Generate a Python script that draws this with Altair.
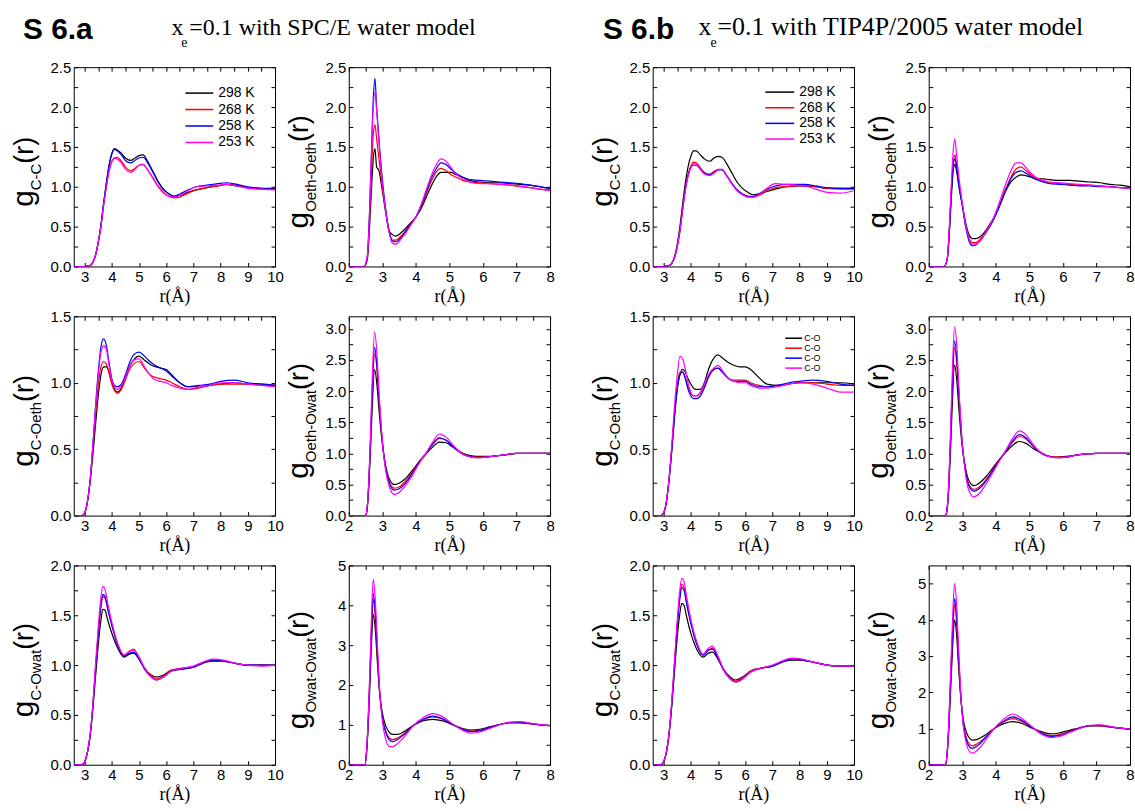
import math
import altair as alt
import pandas as pd

SERIES = ["298 K", "268 K", "258 K", "253 K"]
COLORS = ["#000000", "#ff0000", "#0000ff", "#ff00ff"]

# ---------------- S 6.a : SPC/E ----------------
a_cc_r = [2.6, 3.0, 3.2, 3.3, 3.4, 3.5, 3.6, 3.7, 3.8, 3.9, 4.0, 4.1, 4.2, 4.35, 4.5, 4.7, 4.85, 5.0, 5.15, 5.3,
          5.5, 5.7, 5.9, 6.1, 6.3, 6.5, 6.8, 7.1, 7.5, 7.9, 8.2, 8.6, 9.0, 9.5, 10.0]
a_cc_298 = [0, 0, 0.01, 0.05, 0.14, 0.3, 0.52, 0.8, 1.05, 1.27, 1.42, 1.48, 1.46, 1.42, 1.36, 1.33, 1.36, 1.39, 1.40, 1.33,
            1.20, 1.07, 0.97, 0.91, 0.88, 0.89, 0.93, 0.96, 0.99, 1.01, 1.03, 1.01, 0.99, 0.98, 0.98]
a_cc_268 = [0, 0, 0.01, 0.05, 0.14, 0.3, 0.5, 0.77, 1.0, 1.2, 1.32, 1.36, 1.37, 1.32, 1.25, 1.20, 1.23, 1.27, 1.28, 1.22,
            1.12, 1.01, 0.93, 0.88, 0.86, 0.87, 0.92, 0.96, 0.99, 1.01, 1.03, 1.02, 0.99, 0.97, 0.97]
a_cc_258 = [0, 0, 0.01, 0.05, 0.14, 0.3, 0.52, 0.8, 1.05, 1.27, 1.41, 1.47, 1.45, 1.40, 1.33, 1.30, 1.33, 1.36, 1.37, 1.31,
            1.19, 1.06, 0.96, 0.91, 0.88, 0.91, 0.96, 1.00, 1.02, 1.04, 1.05, 1.03, 1.00, 0.98, 0.97]
a_cc_253 = [0, 0, 0.01, 0.05, 0.14, 0.3, 0.5, 0.77, 1.0, 1.2, 1.31, 1.36, 1.35, 1.30, 1.22, 1.18, 1.22, 1.27, 1.28, 1.22,
            1.11, 1.00, 0.92, 0.88, 0.87, 0.89, 0.95, 1.0, 1.01, 1.02, 1.03, 1.01, 0.98, 0.97, 0.96]

a_oo_r = [2.0, 2.45, 2.55, 2.62, 2.68, 2.73, 2.78, 2.83, 2.9, 3.0, 3.1, 3.2, 3.3, 3.4, 3.55, 3.7, 3.85, 4.0, 4.15, 4.3,
          4.45, 4.6, 4.75, 4.9, 5.05, 5.2, 5.4, 5.6, 5.9, 6.2, 6.5, 6.8, 7.1, 7.4, 7.7, 8.0]
a_oo_298 = [0, 0, 0.08, 0.5, 1.0, 1.35, 1.48, 1.25, 1.2, 0.95, 0.68, 0.45, 0.40, 0.38, 0.42, 0.48, 0.55, 0.62, 0.72, 0.86,
            1.0, 1.12, 1.18, 1.18, 1.18, 1.15, 1.12, 1.08, 1.06, 1.05, 1.05, 1.04, 1.03, 1.02, 1.0, 0.98]
a_oo_268 = [0, 0, 0.1, 0.6, 1.2, 1.65, 1.78, 1.6, 1.35, 1.0, 0.7, 0.45, 0.33, 0.33, 0.38, 0.45, 0.54, 0.62, 0.75, 0.9,
            1.06, 1.18, 1.23, 1.2, 1.15, 1.12, 1.08, 1.06, 1.05, 1.04, 1.03, 1.02, 1.0, 0.99, 0.97, 0.96]
a_oo_258 = [0, 0, 0.12, 0.7, 1.5, 2.1, 2.36, 2.0, 1.6, 1.1, 0.72, 0.45, 0.32, 0.31, 0.36, 0.44, 0.53, 0.62, 0.76, 0.92,
            1.1, 1.22, 1.3, 1.28, 1.22, 1.17, 1.12, 1.09, 1.08, 1.07, 1.06, 1.05, 1.04, 1.02, 1.0, 0.98]
a_oo_253 = [0, 0, 0.12, 0.68, 1.45, 2.0, 2.18, 1.95, 1.55, 1.05, 0.7, 0.43, 0.29, 0.28, 0.34, 0.42, 0.52, 0.62, 0.77, 0.95,
            1.13, 1.27, 1.35, 1.32, 1.24, 1.16, 1.1, 1.06, 1.04, 1.04, 1.03, 1.02, 1.01, 0.99, 0.97, 0.95]

a_coe_r = [2.6, 2.9, 3.0, 3.1, 3.2, 3.3, 3.4, 3.5, 3.6, 3.7, 3.8, 3.9, 4.0, 4.1, 4.2, 4.35, 4.5, 4.65, 4.8, 5.0,
           5.2, 5.4, 5.6, 5.8, 6.0, 6.2, 6.5, 6.8, 7.2, 7.6, 8.0, 8.5, 9.0, 9.5, 10.0]
a_coe_298 = [0, 0, 0.02, 0.1, 0.25, 0.45, 0.68, 0.9, 1.06, 1.12, 1.12, 1.08, 1.0, 0.95, 0.93, 0.96, 1.04, 1.12, 1.17, 1.2,
             1.17, 1.14, 1.12, 1.11, 1.1, 1.06, 1.0, 0.97, 0.97, 0.98, 0.99, 1.0, 0.99, 0.99, 0.98]
a_coe_268 = [0, 0, 0.02, 0.1, 0.26, 0.5, 0.76, 0.98, 1.12, 1.16, 1.14, 1.07, 0.99, 0.94, 0.92, 0.95, 1.02, 1.1, 1.14, 1.16,
             1.11, 1.06, 1.04, 1.03, 1.02, 1.0, 0.97, 0.95, 0.96, 0.98, 0.99, 0.99, 0.99, 0.98, 0.98]
a_coe_258 = [0, 0, 0.02, 0.1, 0.26, 0.52, 0.82, 1.08, 1.27, 1.33, 1.28, 1.15, 1.03, 0.98, 0.97, 0.99, 1.06, 1.15, 1.21, 1.23,
             1.2, 1.16, 1.13, 1.11, 1.09, 1.05, 1.0, 0.97, 0.98, 0.99, 1.01, 1.02, 1.0, 0.99, 0.98]
a_coe_253 = [0, 0, 0.02, 0.1, 0.26, 0.52, 0.8, 1.05, 1.23, 1.28, 1.25, 1.13, 1.02, 0.97, 0.95, 0.98, 1.04, 1.12, 1.17, 1.18,
             1.12, 1.06, 1.02, 1.01, 1.0, 0.98, 0.96, 0.95, 0.97, 0.98, 1.0, 1.0, 0.99, 0.98, 0.97]

a_oew_r = [2.0, 2.5, 2.55, 2.6, 2.65, 2.7, 2.77, 2.84, 2.9, 3.0, 3.1, 3.2, 3.35, 3.5, 3.7, 3.9, 4.1, 4.3, 4.5, 4.7,
           4.9, 5.1, 5.3, 5.5, 5.8, 6.1, 6.4, 6.7, 7.0, 7.3, 7.6, 8.0]
a_oew_298 = [0, 0, 0.12, 0.5, 1.1, 1.75, 2.35, 2.1, 1.7, 1.15, 0.8, 0.6, 0.5, 0.52, 0.6, 0.73, 0.87, 0.99, 1.1, 1.18,
             1.17, 1.1, 1.03, 0.98, 0.95, 0.95, 0.96, 0.98, 1.0, 1.0, 1.0, 1.0]
a_oew_268 = [0, 0, 0.13, 0.55, 1.2, 1.95, 2.6, 2.35, 1.85, 1.2, 0.78, 0.56, 0.44, 0.46, 0.56, 0.7, 0.86, 1.0, 1.14, 1.24,
             1.21, 1.12, 1.03, 0.97, 0.94, 0.94, 0.96, 0.98, 1.0, 1.0, 1.0, 1.0]
a_oew_258 = [0, 0, 0.13, 0.56, 1.25, 2.0, 2.7, 2.4, 1.9, 1.2, 0.76, 0.53, 0.41, 0.43, 0.53, 0.68, 0.85, 1.0, 1.15, 1.25,
             1.21, 1.11, 1.02, 0.96, 0.93, 0.94, 0.96, 0.98, 1.0, 1.0, 1.0, 1.0]
a_oew_253 = [0, 0, 0.14, 0.6, 1.35, 2.2, 2.95, 2.6, 2.0, 1.2, 0.72, 0.48, 0.34, 0.37, 0.49, 0.65, 0.84, 1.0, 1.18, 1.31,
             1.26, 1.14, 1.02, 0.96, 0.93, 0.94, 0.96, 0.98, 1.0, 1.0, 1.0, 1.0]

a_cow_r = [2.6, 2.9, 3.0, 3.1, 3.2, 3.3, 3.4, 3.5, 3.6, 3.67, 3.75, 3.85, 4.0, 4.2, 4.45, 4.65, 4.8, 5.0, 5.2, 5.45,
           5.65, 5.9, 6.2, 6.6, 7.0, 7.35, 7.7, 8.1, 8.5, 9.0, 9.5, 10.0]
a_cow_298 = [0, 0, 0.03, 0.12, 0.28, 0.55, 0.88, 1.2, 1.45, 1.56, 1.55, 1.45, 1.32, 1.18, 1.08, 1.11, 1.12, 1.06, 0.97, 0.9,
             0.88, 0.9, 0.95, 0.96, 0.98, 1.02, 1.04, 1.04, 1.02, 1.0, 1.0, 1.0]
a_cow_268 = [0, 0, 0.03, 0.12, 0.29, 0.58, 0.95, 1.3, 1.58, 1.69, 1.67, 1.56, 1.4, 1.22, 1.1, 1.14, 1.15, 1.08, 0.97, 0.89,
             0.86, 0.89, 0.95, 0.97, 0.98, 1.02, 1.05, 1.04, 1.02, 1.0, 1.0, 1.0]
a_cow_258 = [0, 0, 0.03, 0.12, 0.29, 0.58, 0.96, 1.32, 1.6, 1.71, 1.69, 1.57, 1.4, 1.21, 1.09, 1.12, 1.13, 1.06, 0.96, 0.88,
             0.85, 0.88, 0.94, 0.96, 0.98, 1.02, 1.05, 1.04, 1.02, 1.0, 1.0, 1.0]
a_cow_253 = [0, 0, 0.03, 0.12, 0.3, 0.6, 1.0, 1.38, 1.68, 1.79, 1.76, 1.62, 1.43, 1.23, 1.1, 1.14, 1.16, 1.08, 0.97, 0.88,
             0.85, 0.88, 0.94, 0.97, 0.99, 1.03, 1.06, 1.05, 1.02, 1.0, 0.99, 1.0]

a_ww_r = [2.0, 2.48, 2.53, 2.58, 2.63, 2.68, 2.73, 2.79, 2.85, 2.92, 3.0, 3.1, 3.2, 3.3, 3.45, 3.65, 3.95, 4.2, 4.5, 4.8,
          5.1, 5.4, 5.65, 5.9, 6.2, 6.5, 6.8, 7.1, 7.5, 8.0]
a_ww_298 = [0, 0, 0.3, 1.0, 2.0, 3.1, 3.78, 3.4, 2.6, 1.8, 1.3, 0.98, 0.82, 0.76, 0.76, 0.83, 1.0, 1.1, 1.14, 1.1,
            1.0, 0.91, 0.87, 0.89, 0.95, 1.01, 1.05, 1.05, 1.02, 0.98]
a_ww_268 = [0, 0, 0.32, 1.1, 2.2, 3.4, 4.15, 3.7, 2.8, 1.8, 1.2, 0.85, 0.68, 0.63, 0.67, 0.78, 1.0, 1.12, 1.2, 1.14,
            1.01, 0.89, 0.84, 0.86, 0.93, 1.01, 1.06, 1.06, 1.02, 0.98]
a_ww_258 = [0, 0, 0.33, 1.1, 2.25, 3.5, 4.3, 3.85, 2.9, 1.85, 1.2, 0.82, 0.63, 0.58, 0.63, 0.76, 1.0, 1.13, 1.22, 1.15,
            1.01, 0.88, 0.83, 0.85, 0.93, 1.01, 1.06, 1.07, 1.02, 0.98]
a_ww_253 = [0, 0, 0.35, 1.2, 2.4, 3.8, 4.65, 4.15, 3.1, 1.9, 1.1, 0.65, 0.46, 0.45, 0.53, 0.7, 1.0, 1.17, 1.28, 1.2,
            1.02, 0.86, 0.79, 0.82, 0.91, 1.0, 1.07, 1.08, 1.03, 0.98]

# ---------------- S 6.b : TIP4P/2005 ----------------
b_cc_r = a_cc_r
b_cc_298 = [0, 0, 0.01, 0.04, 0.12, 0.27, 0.5, 0.78, 1.05, 1.25, 1.38, 1.45, 1.45, 1.40, 1.35, 1.32, 1.36, 1.38, 1.37, 1.30,
            1.18, 1.06, 0.98, 0.93, 0.90, 0.91, 0.94, 0.97, 1.0, 1.01, 1.01, 1.0, 0.98, 0.98, 0.98]
b_cc_268 = [0, 0, 0.01, 0.04, 0.11, 0.25, 0.45, 0.72, 0.98, 1.15, 1.26, 1.31, 1.3, 1.24, 1.18, 1.16, 1.19, 1.22, 1.22, 1.15,
            1.05, 0.96, 0.91, 0.88, 0.87, 0.89, 0.95, 0.99, 1.0, 1.01, 1.01, 1.0, 0.98, 0.97, 0.97]
b_cc_258 = [0, 0, 0.01, 0.04, 0.11, 0.25, 0.45, 0.72, 0.97, 1.14, 1.24, 1.27, 1.27, 1.22, 1.17, 1.15, 1.18, 1.21, 1.21, 1.15,
            1.05, 0.96, 0.91, 0.88, 0.88, 0.91, 0.97, 1.01, 1.03, 1.03, 1.03, 1.01, 0.99, 0.98, 0.98]
b_cc_253 = [0, 0, 0.01, 0.04, 0.11, 0.24, 0.44, 0.7, 0.95, 1.13, 1.24, 1.29, 1.28, 1.22, 1.16, 1.14, 1.17, 1.21, 1.22, 1.15,
            1.04, 0.95, 0.9, 0.87, 0.87, 0.9, 0.98, 1.04, 1.03, 1.02, 1.01, 0.97, 0.93, 0.92, 0.95]

b_oo_r = a_oo_r
b_oo_298 = [0, 0, 0.08, 0.45, 0.9, 1.2, 1.28, 1.2, 1.0, 0.78, 0.55, 0.4, 0.35, 0.35, 0.38, 0.45, 0.55, 0.65, 0.8, 0.95,
            1.06, 1.12, 1.15, 1.14, 1.12, 1.1, 1.1, 1.09, 1.08, 1.08, 1.07, 1.06, 1.05, 1.03, 1.02, 1.0]
b_oo_268 = [0, 0, 0.09, 0.5, 1.0, 1.3, 1.4, 1.28, 1.05, 0.78, 0.52, 0.36, 0.3, 0.3, 0.35, 0.43, 0.53, 0.66, 0.82, 0.98,
            1.12, 1.22, 1.25, 1.2, 1.15, 1.1, 1.07, 1.05, 1.04, 1.03, 1.02, 1.02, 1.01, 1.0, 0.99, 0.98]
b_oo_258 = [0, 0, 0.09, 0.5, 0.98, 1.27, 1.35, 1.25, 1.02, 0.76, 0.5, 0.32, 0.26, 0.27, 0.33, 0.42, 0.52, 0.65, 0.8, 0.96,
            1.1, 1.18, 1.2, 1.17, 1.13, 1.09, 1.06, 1.04, 1.03, 1.02, 1.01, 1.01, 1.0, 1.0, 0.99, 0.98]
b_oo_253 = [0, 0, 0.1, 0.55, 1.1, 1.45, 1.6, 1.4, 1.12, 0.8, 0.52, 0.35, 0.28, 0.28, 0.33, 0.43, 0.54, 0.68, 0.86, 1.04,
            1.2, 1.3, 1.3, 1.24, 1.17, 1.12, 1.08, 1.06, 1.05, 1.04, 1.03, 1.02, 1.01, 1.0, 0.99, 0.98]

b_coe_r = a_coe_r
b_coe_298 = [0, 0, 0.02, 0.1, 0.27, 0.5, 0.75, 0.95, 1.06, 1.1, 1.08, 1.03, 0.99, 0.96, 0.95, 0.95, 1.0, 1.1, 1.17, 1.21,
             1.18, 1.15, 1.13, 1.12, 1.12, 1.1, 1.04, 0.99, 0.98, 0.99, 1.0, 1.0, 1.0, 1.0, 0.99]
b_coe_268 = [0, 0, 0.02, 0.1, 0.27, 0.5, 0.76, 0.98, 1.08, 1.08, 1.04, 0.97, 0.92, 0.9, 0.9, 0.92, 0.98, 1.05, 1.1, 1.11,
             1.07, 1.03, 1.02, 1.02, 1.02, 1.0, 0.98, 0.97, 0.98, 0.99, 1.0, 1.0, 0.99, 0.98, 0.98]
b_coe_258 = [0, 0, 0.02, 0.1, 0.26, 0.48, 0.73, 0.95, 1.06, 1.08, 1.03, 0.95, 0.9, 0.88, 0.88, 0.9, 0.96, 1.04, 1.09, 1.11,
             1.07, 1.03, 1.01, 1.01, 1.01, 0.99, 0.97, 0.97, 0.98, 1.0, 1.01, 1.02, 1.01, 0.99, 0.98]
b_coe_253 = [0, 0, 0.02, 0.1, 0.28, 0.53, 0.82, 1.05, 1.2, 1.18, 1.1, 1.0, 0.93, 0.9, 0.9, 0.93, 0.99, 1.06, 1.1, 1.13,
             1.08, 1.03, 1.01, 1.0, 1.0, 0.98, 0.96, 0.96, 0.97, 0.99, 1.0, 0.99, 0.96, 0.93, 0.93]

b_oew_r = a_oew_r
b_oew_298 = [0, 0, 0.1, 0.45, 1.05, 1.75, 2.42, 2.15, 1.7, 1.1, 0.75, 0.56, 0.48, 0.52, 0.62, 0.76, 0.9, 1.02, 1.13, 1.19,
             1.16, 1.08, 1.02, 0.97, 0.94, 0.95, 0.97, 0.99, 1.0, 1.0, 1.0, 1.0]
b_oew_268 = [0, 0, 0.12, 0.5, 1.2, 2.0, 2.7, 2.4, 1.9, 1.15, 0.72, 0.5, 0.42, 0.46, 0.57, 0.73, 0.89, 1.04, 1.18, 1.27,
             1.23, 1.12, 1.03, 0.97, 0.94, 0.94, 0.97, 0.99, 1.0, 1.0, 1.0, 1.0]
b_oew_258 = [0, 0, 0.12, 0.52, 1.25, 2.05, 2.8, 2.5, 1.95, 1.15, 0.7, 0.47, 0.39, 0.43, 0.55, 0.71, 0.88, 1.04, 1.2, 1.3,
             1.25, 1.12, 1.02, 0.96, 0.93, 0.94, 0.97, 0.99, 1.0, 1.0, 1.0, 1.0]
b_oew_253 = [0, 0, 0.13, 0.55, 1.35, 2.25, 3.03, 2.7, 2.05, 1.15, 0.65, 0.4, 0.3, 0.35, 0.5, 0.68, 0.87, 1.05, 1.24, 1.36,
             1.3, 1.15, 1.03, 0.96, 0.93, 0.94, 0.97, 0.99, 1.0, 1.0, 1.0, 1.0]

b_cow_r = a_cow_r
b_cow_298 = [0, 0, 0.03, 0.12, 0.3, 0.58, 0.93, 1.27, 1.52, 1.62, 1.6, 1.48, 1.32, 1.17, 1.08, 1.12, 1.13, 1.06, 0.96, 0.88,
             0.85, 0.88, 0.94, 0.97, 0.99, 1.03, 1.05, 1.05, 1.03, 1.0, 0.99, 0.99]
b_cow_268 = [0, 0, 0.03, 0.12, 0.31, 0.62, 1.0, 1.4, 1.7, 1.81, 1.78, 1.63, 1.43, 1.23, 1.1, 1.15, 1.17, 1.08, 0.96, 0.87,
             0.84, 0.87, 0.94, 0.97, 0.99, 1.03, 1.06, 1.05, 1.03, 1.0, 0.99, 0.99]
b_cow_258 = [0, 0, 0.03, 0.12, 0.31, 0.61, 0.99, 1.38, 1.67, 1.78, 1.75, 1.61, 1.42, 1.22, 1.1, 1.15, 1.16, 1.07, 0.95, 0.86,
             0.83, 0.86, 0.93, 0.97, 0.99, 1.03, 1.06, 1.05, 1.03, 1.0, 0.99, 0.99]
b_cow_253 = [0, 0, 0.03, 0.13, 0.32, 0.64, 1.04, 1.44, 1.76, 1.87, 1.84, 1.68, 1.46, 1.25, 1.11, 1.17, 1.19, 1.09, 0.96, 0.86,
             0.83, 0.86, 0.93, 0.97, 1.0, 1.04, 1.07, 1.06, 1.03, 1.0, 0.99, 0.99]

b_ww_r = [2.0, 2.5, 2.55, 2.6, 2.65, 2.71, 2.77, 2.83, 2.89, 2.96, 3.04, 3.13, 3.22, 3.3, 3.45, 3.65, 3.95, 4.2, 4.5, 4.8,
          5.1, 5.4, 5.65, 5.9, 6.2, 6.5, 6.8, 7.1, 7.5, 8.0]
b_ww_298 = [0, 0, 0.3, 1.0, 2.0, 3.2, 4.0, 3.6, 2.7, 1.8, 1.2, 0.88, 0.73, 0.68, 0.7, 0.8, 1.0, 1.12, 1.19, 1.13,
            1.0, 0.9, 0.85, 0.88, 0.95, 1.02, 1.07, 1.07, 1.03, 0.98]
b_ww_268 = [0, 0, 0.32, 1.1, 2.2, 3.5, 4.42, 3.95, 2.9, 1.8, 1.1, 0.72, 0.56, 0.52, 0.58, 0.73, 1.0, 1.16, 1.27, 1.18,
            1.02, 0.86, 0.8, 0.83, 0.92, 1.01, 1.08, 1.08, 1.03, 0.98]
b_ww_258 = [0, 0, 0.33, 1.12, 2.3, 3.65, 4.58, 4.1, 3.0, 1.85, 1.05, 0.66, 0.49, 0.45, 0.52, 0.7, 1.0, 1.18, 1.32, 1.21,
            1.02, 0.85, 0.78, 0.81, 0.91, 1.01, 1.08, 1.09, 1.03, 0.98]
b_ww_253 = [0, 0, 0.35, 1.2, 2.5, 4.0, 5.0, 4.45, 3.2, 1.9, 1.0, 0.55, 0.36, 0.32, 0.4, 0.62, 1.0, 1.23, 1.4, 1.26,
            1.03, 0.82, 0.75, 0.78, 0.89, 1.0, 1.09, 1.1, 1.04, 0.98]

LEGEND_T = SERIES
LEGEND_CO = ["C-O", "C-O", "C-O", "C-O"]

# ---------------- styling ----------------
SANS = "Liberation Sans"
SERIF = "Liberation Serif"
PW, PH = 202, 200
CSCALE = alt.Scale(domain=SERIES, range=COLORS)
AW = {'g': .556, 'C': .722, 'O': .778, '-': .333, 'e': .556, 't': .278, 'h': .556,
      'w': .722, 'a': .556, '(': .333, ')': .333, 'r': .333}


def tw(s, size):
    return sum(AW.get(c, 0.55) for c in s) * size


def tick_values(lo, hi, step):
    n0 = math.ceil(lo / step - 1e-9)
    n1 = math.floor(hi / step + 1e-9)
    return [round(i * step, 4) for i in range(n0, n1 + 1)]


def one(**kw):
    return alt.Chart(pd.DataFrame({"k": [0]})).mark_text(**kw)


def ytitle(sub):
    gs, ss, rs = 30, 15, 27
    lg, ls, lr = tw("g", gs), tw(sub, ss), tw("(r)", rs)
    y0 = 105 + (lg + ls + lr) / 2
    out = []
    for t, size, px, py in [("g", gs, -41, y0), (sub, ss, -33, y0 - lg), ("(r)", rs, -41, y0 - lg - ls)]:
        out.append(one(text=t, fontSize=size, font=SANS, angle=270, align="left",
                       baseline="alphabetic", color="black").encode(x=alt.value(px), y=alt.value(py)))
    return out


def group_title(label, rest, xs, tsize):
    sx, xx, ex, rx = xs
    return [
        one(text=label, fontSize=30, font=SANS, fontWeight="bold", align="left",
            baseline="alphabetic", color="black").encode(x=alt.value(sx), y=alt.value(-28)),
        one(text="x", fontSize=tsize, font=SERIF, align="left", baseline="alphabetic",
            color="black").encode(x=alt.value(xx), y=alt.value(-32)),
        one(text="e", fontSize=14, font=SERIF, align="left", baseline="alphabetic",
            color="black").encode(x=alt.value(ex), y=alt.value(-20)),
        one(text=rest, fontSize=tsize, font=SERIF, align="left", baseline="alphabetic",
            color="black").encode(x=alt.value(rx), y=alt.value(-32)),
    ]


def legend(labels, x0, x1, xt, y0, dy, size):
    ldf = pd.DataFrame({"T": SERIES, "lab": labels, "ly": [y0 + i * dy for i in range(len(SERIES))]})
    rule = alt.Chart(ldf).mark_rule(strokeWidth=1.5).encode(
        x=alt.value(x0), x2=alt.value(x1), y=alt.Y("ly:Q", scale=None),
        color=alt.Color("T:N", scale=CSCALE, legend=None))
    txt = alt.Chart(ldf).mark_text(align="left", baseline="middle", fontSize=size, font=SANS,
                                   color="black").encode(
        x=alt.value(xt), y=alt.Y("ly:Q", scale=None), text="lab:N")
    return [rule, txt]


def panel(r, ys, xdom, ydom, ymajor, yfmt, sub, extras=()):
    rows = []
    for s, y in zip(SERIES, ys):
        for rv, gv in zip(r, y):
            rows.append({"r": rv, "g": gv, "T": s})
    df = pd.DataFrame(rows)
    xvals = tick_values(xdom[0], xdom[1], 0.5)
    yvals = tick_values(ydom[0], ydom[1], ymajor / 2)
    xs = alt.Scale(domain=list(xdom), nice=False, zero=False)
    ysc = alt.Scale(domain=list(ydom), nice=False, zero=False)
    common = dict(offset=-4, tickSize=4, domain=False, tickColor="black", tickWidth=1, grid=False)
    xaxis = alt.Axis(values=xvals, format="d", labelExpr="datum.value % 1 === 0 ? datum.label : ''",
                     title="r(Å)", labelPadding=3, labelFlush=False, labelOverlap=False,
                     titleFont=SERIF, titleFontSize=18, titleFontWeight="normal", titleColor="black",
                     titlePadding=3, **common)
    yaxis = alt.Axis(values=yvals, format=yfmt,
                     labelExpr=f"abs(datum.value/{ymajor} - round(datum.value/{ymajor})) < 1e-6 ? datum.label : ''",
                     title=None, labelPadding=3, labelFlush=False, labelOverlap=False, **common)
    lines = alt.Chart(df).mark_line(strokeWidth=1.2, interpolate="monotone", clip=True).encode(
        x=alt.X("r:Q", scale=xs, axis=xaxis),
        y=alt.Y("g:Q", scale=ysc, axis=yaxis),
        color=alt.Color("T:N", scale=CSCALE, legend=None),
    )
    mirror = alt.Chart(df).mark_point(opacity=0, size=1).encode(
        x=alt.X("r:Q", scale=xs, axis=alt.Axis(orient="top", values=xvals, labels=False, title=None, **common)),
        y=alt.Y("g:Q", scale=ysc, axis=alt.Axis(orient="right", values=yvals, labels=False, title=None, **common)),
    )
    return alt.layer(lines, mirror, *ytitle(sub), *extras).resolve_axis(
        x="independent", y="independent").properties(width=PW, height=PH)


XC = (2.6, 10)
XO = (2, 8)

pa1 = panel(a_cc_r, [a_cc_298, a_cc_268, a_cc_258, a_cc_253], XC, (0, 2.5), 0.5, ".1f", "C-C",
            extras=group_title("S 6.a", "=0.1 with SPC/E water model", (-51, 98, 108, 116), 24)
            + legend(LEGEND_T, 112, 140, 145, 26, 16.5, 14))
pa2 = panel(a_oo_r, [a_oo_298, a_oo_268, a_oo_258, a_oo_253], XO, (0, 2.5), 0.5, ".1f", "Oeth-Oeth")
pa3 = panel(a_coe_r, [a_coe_298, a_coe_268, a_coe_258, a_coe_253], XC, (0, 1.5), 0.5, ".1f", "C-Oeth")
pa4 = panel(a_oew_r, [a_oew_298, a_oew_268, a_oew_258, a_oew_253], XO, (0, 3.2), 0.5, ".1f", "Oeth-Owat")
pa5 = panel(a_cow_r, [a_cow_298, a_cow_268, a_cow_258, a_cow_253], XC, (0, 2.0), 0.5, ".1f", "C-Owat")
pa6 = panel(a_ww_r, [a_ww_298, a_ww_268, a_ww_258, a_ww_253], XO, (0, 5), 1, "d", "Owat-Owat")

pb1 = panel(b_cc_r, [b_cc_298, b_cc_268, b_cc_258, b_cc_253], XC, (0, 2.5), 0.5, ".1f", "C-C",
            extras=group_title("S 6.b", "=0.1 with TIP4P/2005 water model", (-50, 46, 58, 65), 26)
            + legend(LEGEND_T, 113, 142, 147, 25, 15.7, 14))
pb2 = panel(b_oo_r, [b_oo_298, b_oo_268, b_oo_258, b_oo_253], XO, (0, 2.5), 0.5, ".1f", "Oeth-Oeth")
pb3 = panel(b_coe_r, [b_coe_298, b_coe_268, b_coe_258, b_coe_253], XC, (0, 1.5), 0.5, ".1f", "C-Oeth",
            extras=legend(LEGEND_CO, 133, 150, 152, 22, 10, 9))
pb4 = panel(b_oew_r, [b_oew_298, b_oew_268, b_oew_258, b_oew_253], XO, (0, 3.2), 0.5, ".1f", "Oeth-Owat")
pb5 = panel(b_cow_r, [b_cow_298, b_cow_268, b_cow_258, b_cow_253], XC, (0, 2.0), 0.5, ".1f", "C-Owat")
pb6 = panel(b_ww_r, [b_ww_298, b_ww_268, b_ww_258, b_ww_253], XO, (0, 5.5), 1, "d", "Owat-Owat")

grpA = alt.concat(pa1, pa2, pa3, pa4, pa5, pa6, columns=2, spacing={"row": 50, "column": 74}, bounds="flush")
grpB = alt.concat(pb1, pb2, pb3, pb4, pb5, pb6, columns=2, spacing={"row": 50, "column": 75}, bounds="flush")

chart = alt.hconcat(grpA, grpB, spacing=32,
                    padding={"left": 8, "top": 12, "right": 0, "bottom": 0}).configure(
    font=SANS).configure_view(stroke="black", strokeWidth=1).configure_axis(
    labelFont=SANS, labelFontSize=15, labelColor="black")

chart.save("out.html", embed_options={"renderer": "svg", "actions": False})
